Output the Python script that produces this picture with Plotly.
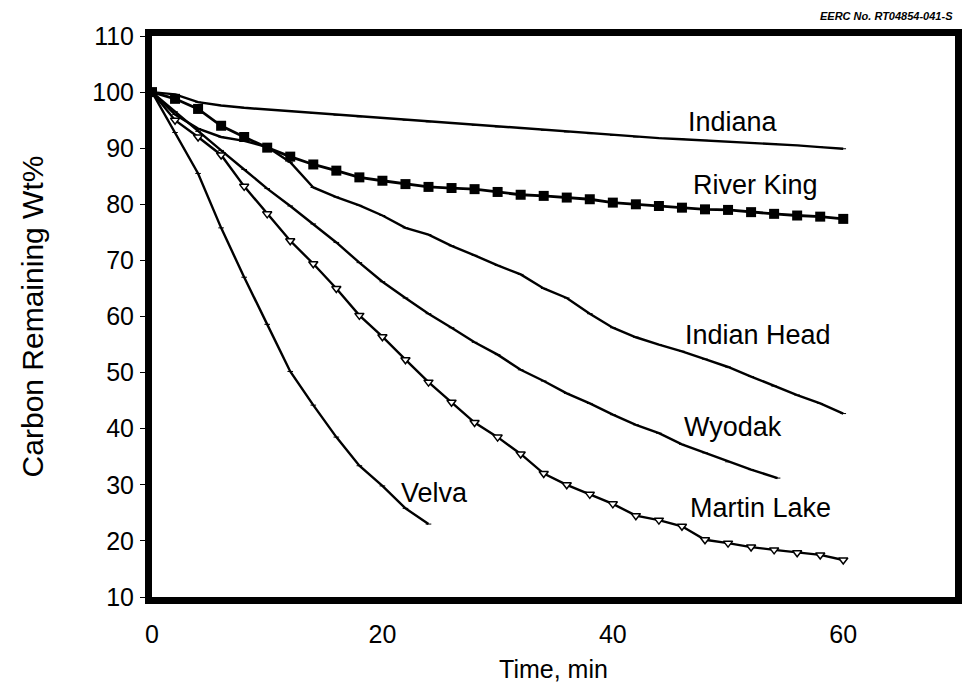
import plotly.graph_objects as go

t_full = [0, 2, 4, 6, 8, 10, 12, 14, 16, 18, 20, 22, 24, 26, 28, 30, 32, 34, 36, 38, 40,
          42, 44, 46, 48, 50, 52, 54, 56, 58, 60]

indiana = [100, 99.6, 98.2, 97.6, 97.2, 96.9, 96.6, 96.2, 95.9, 95.6, 95.3, 95.0, 94.7, 94.4,
           94.1, 93.8, 93.5, 93.2, 92.9, 92.6, 92.3, 92.0, 91.8, 91.6, 91.4, 91.2, 91.0, 90.8,
           90.5, 90.2, 89.9]

river_king = [100, 98.8, 97.0, 94.0, 92.0, 90.1, 88.5, 87.1, 86.0, 84.8, 84.2, 83.6, 83.1, 82.9,
              82.7, 82.2, 81.7, 81.5, 81.2, 80.9, 80.3, 80.0, 79.7, 79.4, 79.1, 79.0, 78.6, 78.3,
              78.0, 77.8, 77.4]

indian_head = [100, 96.0, 93.5, 92.0, 91.3, 90.2, 87.5, 83.0, 81.3, 79.8, 78.0, 75.8, 74.6, 72.6,
               70.9, 69.1, 67.5, 65.0, 63.3, 60.5, 58.0, 56.3, 55.0, 53.8, 52.4, 51.0, 49.3, 47.6,
               46.0, 44.5, 42.7]

martin_lake = [100, 95.0, 92.0, 88.8, 83.2, 78.3, 73.5, 69.4, 65.0, 60.2, 56.4, 52.3, 48.3, 44.7,
               41.1, 38.5, 35.5, 32.0, 30.0, 28.3, 26.6, 24.5, 23.7, 22.6, 20.2, 19.6, 18.9, 18.4,
               17.9, 17.5, 16.6]

t_wyodak = [0, 2, 4, 6, 8, 10, 12, 14, 16, 18, 20, 22, 24, 26, 28, 30, 32, 34, 36, 38, 40,
            42, 44, 46, 48, 50, 52, 54.3]
wyodak = [100, 96.5, 93.0, 89.6, 86.2, 82.8, 79.7, 76.5, 73.2, 69.6, 66.2, 63.3, 60.5, 58.0,
          55.4, 53.2, 50.5, 48.5, 46.3, 44.5, 42.5, 40.7, 39.2, 37.2, 35.7, 34.1, 32.7, 31.2]

t_velva = [0, 2, 4, 6, 8, 10, 12, 14, 16, 18, 20, 22, 24]
velva = [100, 92.8, 85.5, 75.8, 67.0, 58.6, 50.2, 44.2, 38.5, 33.4, 29.8, 25.8, 23.0]

labels = ["Indiana", "River King", "Indian Head", "Wyodak", "Martin Lake", "Velva"]
label_x = [50.4, 52.4, 52.6, 50.4, 52.8, 24.5]
label_y = [94.6, 83.4, 56.7, 40.3, 25.9, 28.5]

x_ticks = [0, 20, 40, 60]
y_ticks = [10, 20, 30, 40, 50, 60, 70, 80, 90, 100, 110]

fig = go.Figure()

small = dict(symbol="line-ew", size=4, line=dict(width=1, color="black"))

fig.add_trace(go.Scatter(x=t_full, y=indiana, mode="lines+markers",
                         line=dict(color="black", width=2.4), marker=small, name="Indiana"))
fig.add_trace(go.Scatter(x=t_full, y=indian_head, mode="lines+markers",
                         line=dict(color="black", width=2.4), marker=small, name="Indian Head"))
fig.add_trace(go.Scatter(x=t_wyodak, y=wyodak, mode="lines+markers",
                         line=dict(color="black", width=2.4), marker=small, name="Wyodak"))
fig.add_trace(go.Scatter(x=t_velva, y=velva, mode="lines+markers",
                         line=dict(color="black", width=2.4), marker=small, name="Velva"))
fig.add_trace(go.Scatter(x=t_full, y=martin_lake, mode="lines+markers",
                         line=dict(color="black", width=2.4),
                         marker=dict(symbol="triangle-down", size=8, color="white",
                                     line=dict(width=1.5, color="black")),
                         name="Martin Lake"))
fig.add_trace(go.Scatter(x=t_full, y=river_king, mode="lines+markers",
                         line=dict(color="black", width=2.8),
                         marker=dict(symbol="square", size=10, color="black"),
                         name="River King"))

for lab, lx, ly in zip(labels, label_x, label_y):
    fig.add_annotation(x=lx, y=ly, text=lab, showarrow=False,
                       font=dict(family="Liberation Sans, Arial", size=27, color="black"))

fig.add_annotation(xref="paper", yref="paper", x=1.0, y=1.0, yshift=28, xanchor="right",
                   text="<b><i>EERC No. RT04854-041-S</i></b>", showarrow=False,
                   font=dict(family="Liberation Sans, Arial", size=11, color="black"))

fig.update_layout(
    width=965, height=689,
    margin=dict(l=152, r=3, t=36, b=92),
    paper_bgcolor="white", plot_bgcolor="white",
    showlegend=False,
    font=dict(family="Liberation Sans, Arial", color="black"),
)
fig.update_xaxes(range=[0, 69.7], tickvals=x_ticks, ticktext=[str(v) for v in x_ticks],
                 showgrid=False, zeroline=False, showline=True, mirror=True,
                 linecolor="black", linewidth=7, ticks="", ticklabelstandoff=9,
                 tickfont=dict(size=25), title=dict(text="Time, min", font=dict(size=25), standoff=16))
fig.update_yaxes(range=[10, 110], tickvals=y_ticks, ticktext=[str(v) for v in y_ticks],
                 showgrid=False, zeroline=False, showline=True, mirror=True,
                 linecolor="black", linewidth=7, ticks="outside", ticklen=5, tickwidth=1,
                 tickcolor="black", ticklabelstandoff=1,
                 tickfont=dict(size=25), title=dict(text="Carbon Remaining Wt%", font=dict(size=30), standoff=42))

fig.write_html("out.html")
